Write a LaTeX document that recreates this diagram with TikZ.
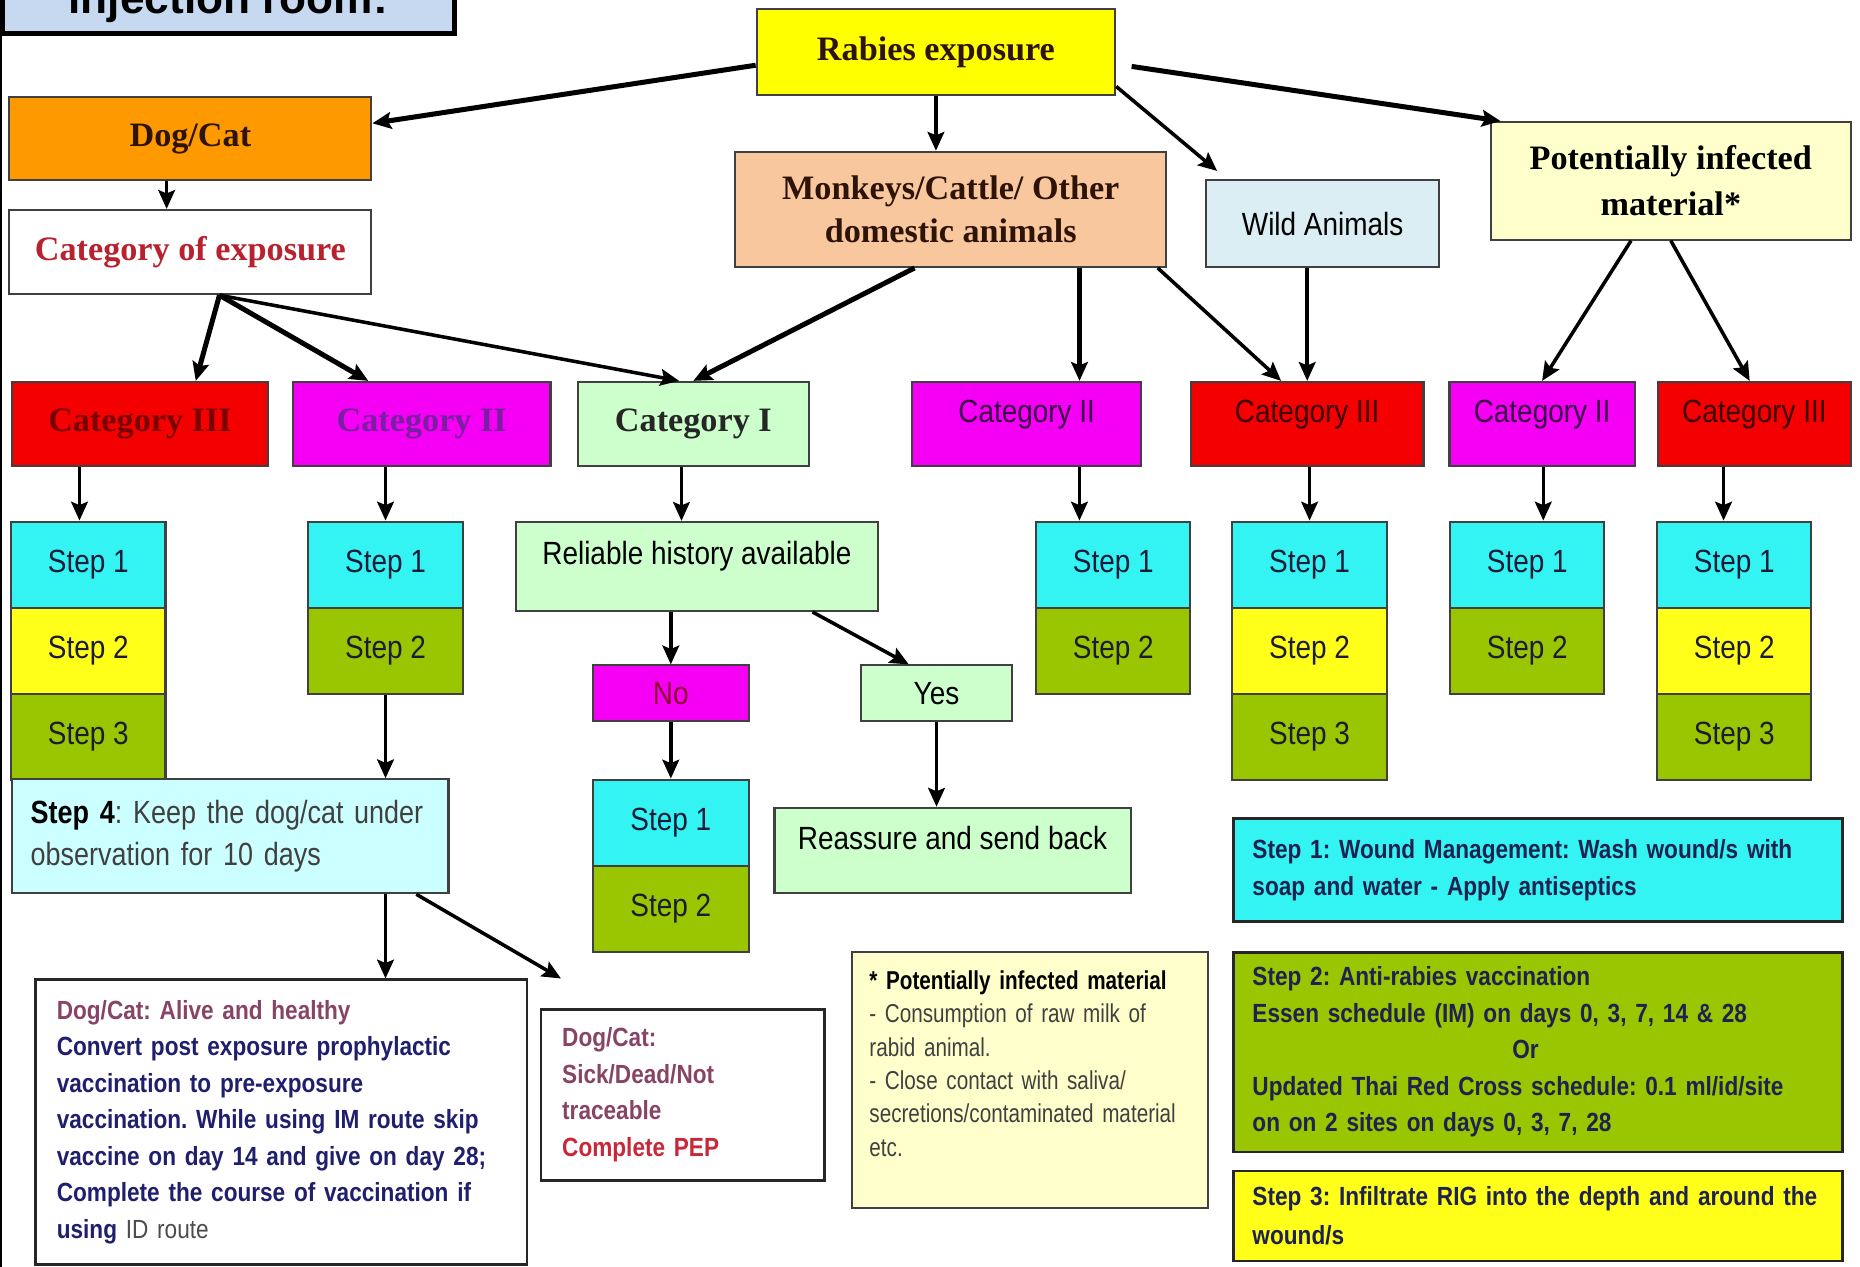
\documentclass[tikz,border=0pt]{standalone}
\usepackage{fontspec}
\setmainfont{Liberation Serif}
\newfontfamily\headsf{Liberation Sans}
\newfontfamily\narrowsf[FakeStretch=0.87]{Liberation Sans}
\newfontfamily\stepfoursf[FakeStretch=0.84]{Liberation Sans}
\newfontfamily\legendsf[FakeStretch=0.86]{Liberation Sans}
\newfontfamily\notesf[FakeStretch=0.8]{Liberation Sans}
\usepackage{tikz}
\usetikzlibrary{arrows.meta, positioning, calc}
\frenchspacing

\definecolor{injblue}{HTML}{C6D9F0}
\definecolor{rabyellow}{HTML}{FFFF00}
\definecolor{dogorange}{HTML}{FF9900}
\definecolor{peach}{HTML}{F9C79D}
\definecolor{wildblue}{HTML}{DAEEF3}
\definecolor{paleyellow}{HTML}{FFFFCC}
\definecolor{palegreen}{HTML}{CCFFCC}
\definecolor{palecyan}{HTML}{CCFFFF}
\definecolor{catred}{HTML}{F50000}
\definecolor{catmag}{HTML}{F500F5}
\definecolor{stepcyan}{HTML}{33F3F3}
\definecolor{stepyellow}{HTML}{FFFF1A}
\definecolor{stepgreen}{HTML}{99C600}
\definecolor{stepink}{HTML}{1C1C38}
\definecolor{redink}{HTML}{7A0000}
\definecolor{purpleink}{HTML}{7A1FA2}
\definecolor{expink}{HTML}{B8222E}
\definecolor{brownink}{HTML}{2E1408}
\definecolor{darkmag}{HTML}{3A0048}
\definecolor{darkred}{HTML}{3C0000}
\definecolor{noink}{HTML}{8B0033}
\definecolor{mauve}{HTML}{884466}
\definecolor{navy}{HTML}{1F1F6E}
\definecolor{pepred}{HTML}{C8283A}
\definecolor{legink}{HTML}{1F2250}

\begin{document}
\begin{tikzpicture}[x=0.01cm, y=-0.01cm,
    box/.style={draw=black!75, line width=0.5pt, inner sep=0pt, align=center},
    tbox/.style={box, font=\bfseries\fontsize{8.2}{10.5}\selectfont},
    sbox/.style={box, font=\narrowsf\fontsize{7.7}{9.5}\selectfont},
    hi/.style={text depth=0.22cm},
    stepbox/.style={sbox, minimum width=1.3cm, minimum height=0.725cm, text=stepink},
    infobox/.style={box, draw=black!85, line width=0.6pt, align=left, inner xsep=0.18cm,
        font=\legendsf\bfseries\fontsize{6.3}{8.75}\selectfont},
    arr/.style={-{Stealth[length=4.5pt,width=4pt,inset=0.8pt]}, line width=0.85pt},
    arrb/.style={arr, line width=1.2pt}
]
    \useasboundingbox (0,0) rectangle (1568,1068);

    % title strip and frame
    \node[box, draw=black, line width=1.2pt, fill=injblue, minimum width=3.81cm, minimum height=0.53cm,
          anchor=base, font=\headsf\bfseries\fontsize{10.6}{12}\selectfont] (inj) at (192.5,11) {injection room:};
    \draw[line width=1.3pt] (inj.south west) -- ++(0,1045);

    % top level
    \node[tbox, fill=rabyellow, minimum width=3.02cm, minimum height=0.72cm, text=brownink] (rabies) at (789,44) {Rabies exposure};
    \node[tbox, fill=dogorange, minimum width=3.05cm, minimum height=0.70cm, text=brownink] (dogcat) at (160.5,117) {Dog/Cat};
    \node[tbox, fill=white, minimum width=3.05cm, minimum height=0.71cm, text=expink] (catexp) at (160.5,212.5) {Category of exposure};
    \node[tbox, fill=peach, minimum width=3.63cm, minimum height=0.97cm, text=brownink] (monkeys) at (801.5,176.5) {Monkeys/Cattle/ Other\\domestic animals};
    \node[sbox, fill=wildblue, minimum width=1.96cm, minimum height=0.73cm] (wild) at (1115,188.5) {Wild Animals};
    \node[tbox, fill=paleyellow, minimum width=3.03cm, minimum height=0.99cm, font=\bfseries\fontsize{8.2}{11}\selectfont] (potmat) at (1408.5,152.5) {Potentially infected\\material*};

    % categories
    \node[tbox, fill=catred, minimum width=2.16cm, minimum height=0.71cm, text=redink] (cat3a) at (118,357.5) {Category III};
    \node[tbox, fill=catmag, minimum width=2.17cm, minimum height=0.71cm, text=purpleink] (cat2a) at (355.5,357.5) {Category II};
    \node[tbox, fill=palegreen, minimum width=1.95cm, minimum height=0.71cm, text=black!85] (cat1) at (584.5,357.5) {Category I};
    \node[sbox, hi, fill=catmag, minimum width=1.93cm, minimum height=0.71cm, text=darkmag] (cat2b) at (865.5,357.5) {Category II};
    \node[sbox, hi, fill=catred, minimum width=1.96cm, minimum height=0.71cm, text=darkred] (cat3b) at (1102,357.5) {Category III};
    \node[sbox, hi, fill=catmag, minimum width=1.56cm, minimum height=0.71cm, text=darkmag] (cat2c) at (1300,357.5) {Category II};
    \node[sbox, hi, fill=catred, minimum width=1.62cm, minimum height=0.71cm, text=darkred] (cat3c) at (1479,357.5) {Category III};

    % step stacks
    \node[stepbox, fill=stepcyan] (s3a1) at (74.5,476) {Step 1};
    \node[stepbox, fill=stepyellow] (s3a2) at (74.5,548.5) {Step 2};
    \node[stepbox, fill=stepgreen] (s3a3) at (74.5,621) {Step 3};
    \node[stepbox, fill=stepcyan] (s2a1) at (325,476) {Step 1};
    \node[stepbox, fill=stepgreen] (s2a2) at (325,548.5) {Step 2};
    \node[stepbox, fill=stepcyan] (s2b1) at (938.5,476) {Step 1};
    \node[stepbox, fill=stepgreen] (s2b2) at (938.5,548.5) {Step 2};
    \node[stepbox, fill=stepcyan] (s3b1) at (1104,476) {Step 1};
    \node[stepbox, fill=stepyellow] (s3b2) at (1104,548.5) {Step 2};
    \node[stepbox, fill=stepgreen] (s3b3) at (1104,621) {Step 3};
    \node[stepbox, fill=stepcyan] (s2c1) at (1287.5,476) {Step 1};
    \node[stepbox, fill=stepgreen] (s2c2) at (1287.5,548.5) {Step 2};
    \node[stepbox, fill=stepcyan] (s3c1) at (1462,476) {Step 1};
    \node[stepbox, fill=stepyellow] (s3c2) at (1462,548.5) {Step 2};
    \node[stepbox, fill=stepgreen] (s3c3) at (1462,621) {Step 3};

    % category I branch
    \node[sbox, hi, fill=palegreen, minimum width=3.05cm, minimum height=0.75cm] (reliable) at (587.5,477.5) {Reliable history available};
    \node[sbox, fill=catmag, minimum width=1.31cm, minimum height=0.47cm, text=noink] (no) at (565.5,584.5) {No};
    \node[sbox, fill=palegreen, minimum width=1.27cm, minimum height=0.47cm] (yes) at (789.5,584.5) {Yes};
    \node[stepbox, fill=stepcyan, minimum width=1.31cm] (nos1) at (565.5,693.5) {Step 1};
    \node[stepbox, fill=stepgreen, minimum width=1.31cm] (nos2) at (565.5,766) {Step 2};
    \node[sbox, hi, fill=palegreen, minimum width=3.0cm, minimum height=0.72cm] (reassure) at (803,717) {Reassure and send back};

    % observation and outcomes
    \node[sbox, fill=palecyan, align=left, inner xsep=0.16cm, text width=3.36cm, minimum height=0.96cm,
          font=\stepfoursf\fontsize{7.7}{10}\selectfont, text=black!75] (step4) at (194,705)
          {{\color{black}\bfseries Step 4}: Keep the dog/cat under\\observation for 10 days};
    \node[infobox, fill=white, text width=3.78cm, minimum height=2.40cm, text=navy] (alive) at (237,946)
          {{\color{mauve}Dog/Cat: Alive and healthy}\\Convert post exposure prophylactic\\vaccination to pre-exposure\\
           vaccination. While using IM route skip\\vaccine on day 14 and give on day 28;\\
           Complete the course of vaccination if\\using {\mdseries\color{black!70}ID route}};
    \node[infobox, fill=white, text width=2.03cm, minimum height=1.44cm, text=mauve] (sick) at (575.5,923)
          {Dog/Cat:\\Sick/Dead/Not\\traceable\\{\color{pepred}Complete PEP}};
    \node[box, fill=paleyellow, align=left, inner xsep=0.15cm, text width=2.7cm, minimum height=2.15cm,
          font=\notesf\fontsize{6.2}{8}\selectfont, text=black!75] (note) at (868,910.5)
          {{\color{black}\bfseries * Potentially infected material}\\- Consumption of raw milk of\\rabid animal.\\
           - Close contact with saliva/\\secretions/contaminated material\\etc.\\\mbox{}};

    % legend of steps
    \node[infobox, inner xsep=0.16cm, fill=stepcyan, text width=4.81cm, minimum height=0.87cm, text=legink] (leg1) at (1296.5,733.5)
          {Step 1: Wound Management: Wash wound/s with\\soap and water - Apply antiseptics};
    \node[infobox, inner xsep=0.16cm, fill=stepgreen, text width=4.81cm, minimum height=1.68cm, text=legink] (leg2) at (1296.5,887)
          {Step 2: Anti-rabies vaccination\\Essen schedule (IM) on days 0, 3, 7, 14 \& 28\\\makebox[4.6cm]{Or}\\
           Updated Thai Red Cross schedule: 0.1 ml/id/site\\on on 2 sites on days 0, 3, 7, 28};
    \node[infobox, inner xsep=0.16cm, fill=stepyellow, text width=4.81cm, minimum height=0.76cm, text=legink,
          font=\legendsf\bfseries\fontsize{6.3}{9.2}\selectfont] (leg3) at (1296.5,1025)
          {Step 3: Infiltrate RIG into the depth and around the\\wound/s};

    % arrows from the top
    \draw[arrb] ([yshift=-0.11cm]rabies.west) -- ([yshift=0.13cm]dogcat.east);
    \draw[arr] (rabies.south) -- (rabies.south |- monkeys.north);
    \draw[arr] ([yshift=0.08cm]rabies.south east) -- ([xshift=0.1cm,yshift=0.07cm]wild.north west);
    \draw[arrb] ([shift={(0.13cm,-0.12cm)}]rabies.east) -- ([xshift=0.09cm]potmat.north west);

    % dog/cat branch
    \draw[arr] ([xshift=-0.2cm]dogcat.south) -- ([xshift=-0.2cm]catexp.north);
    \coordinate (fan) at ([xshift=0.245cm]catexp.south);
    \draw[arrb] (fan) -- ([xshift=0.47cm]cat3a.north);
    \draw[arrb] (fan) -- ([xshift=-0.45cm]cat2a.north);
    \draw[arr] (fan) -- ([xshift=-0.12cm]cat1.north);

    % other animals and material
    \draw[arrb] ([xshift=-0.305cm]monkeys.south) -- (cat1.north);
    \coordinate (m2) at ([xshift=0.445cm]cat2b.north);
    \draw[arrb] (m2 |- monkeys.south) -- (m2);
    \draw[arr] ([xshift=-0.08cm]monkeys.south east) -- ([xshift=-0.22cm]cat3b.north);
    \draw[arr] (cat3b.north |- wild.south) -- (cat3b.north);
    \draw[arr] ([xshift=-0.335cm]potmat.south) -- (cat2c.north);
    \draw[arr] (potmat.south) -- ([xshift=-0.04cm]cat3c.north);

    % categories to steps
    \coordinate (a3) at ([xshift=-0.075cm]s3a1.north);
    \draw[arr] (a3 |- cat3a.south) -- (a3);
    \draw[arr] (s2a1.north |- cat2a.south) -- (s2a1.north);
    \coordinate (a1) at ([xshift=-0.1cm]cat1.south);
    \draw[arr] (a1) -- (a1 |- reliable.north);
    \coordinate (b2) at ([xshift=-0.285cm]s2b1.north);
    \draw[arr] (b2 |- cat2b.south) -- (b2);
    \draw[arr] (s3b1.north |- cat3b.south) -- (s3b1.north);
    \coordinate (c2) at ([xshift=0.135cm]s2c1.north);
    \draw[arr] (c2 |- cat2c.south) -- (c2);
    \coordinate (c3) at ([xshift=-0.09cm]s3c1.north);
    \draw[arr] (c3 |- cat3c.south) -- (c3);

    % lower part
    \draw[arr] (s2a2.south) -- (s2a2.south |- step4.north);
    \draw[arr] (no.north |- reliable.south) -- (no.north);
    \draw[arr] ([xshift=-0.56cm]reliable.south east) -- ([xshift=0.41cm]yes.north west);
    \draw[arr] (no.south) -- (nos1.north);
    \draw[arr] (yes.south) -- (yes.south |- reassure.north);
    \draw[arr] (step4.south -| s2a2.south) -- (alive.north -| s2a2.south);
    \coordinate (sickin) at ([shift={(0.18cm,0.25cm)}]sick.north west);
    \draw[arr] ([xshift=-0.28cm]step4.south east) -- (sickin);
\end{tikzpicture}
\end{document}
